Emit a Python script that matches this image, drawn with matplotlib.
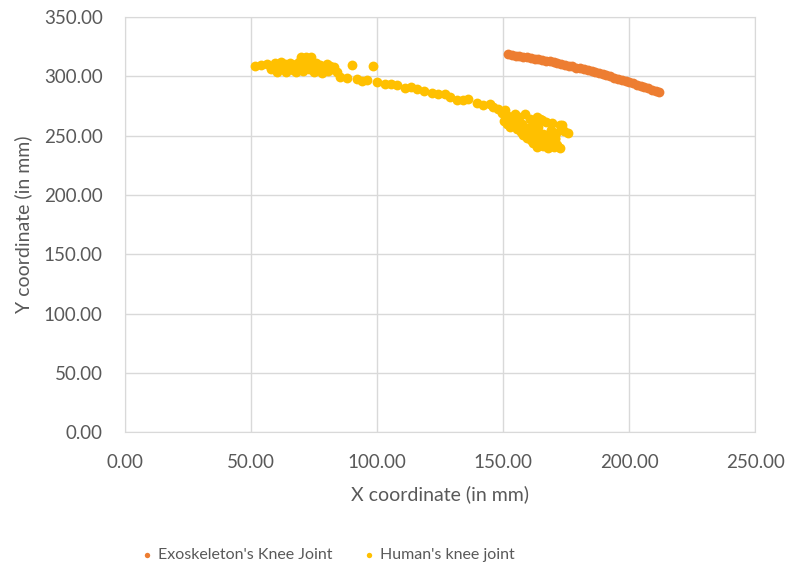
import matplotlib.pyplot as plt
from matplotlib.ticker import FormatStrFormatter

plt.rcParams['font.family'] = ['Lato', 'DejaVu Sans']

# knee joint trajectories (mm)
exo_x = [152.0, 153.5, 155.0, 156.4, 158.0, 159.5, 161.0, 162.6, 164.0, 165.5,
         167.1, 168.6, 170.0, 171.5, 173.0, 174.6, 176.1, 177.5, 179.0, 180.6,
         182.0, 183.5, 185.1, 186.6, 188.0, 189.5, 191.0, 192.6, 194.0, 195.5,
         197.1, 198.6, 200.0, 201.5, 203.0, 204.6, 206.0, 207.5, 209.0, 210.6,
         212.0]
exo_y = [318.7, 318.3, 317.6, 317.3, 316.6, 316.2, 315.5, 315.1, 314.3, 313.9,
         313.0, 312.6, 311.8, 311.3, 310.4, 309.8, 308.9, 308.4, 307.5, 306.8,
         305.9, 305.3, 304.2, 303.6, 302.6, 301.9, 300.8, 300.0, 299.0, 298.2,
         297.0, 296.2, 295.1, 294.3, 293.1, 292.2, 291.0, 290.1, 288.8, 287.9,
         286.7]

human_x = [51.6, 54.0, 56.5, 58.0, 59.5, 60.5, 61.0, 62.0, 62.5, 63.5,
           64.0, 65.0, 65.5, 66.5, 67.0, 68.0, 68.5, 69.0, 70.0, 70.5,
           71.0, 72.0, 72.5, 73.0, 73.5, 74.0, 75.0, 75.5, 76.0, 77.0,
           77.5, 78.0, 79.0, 80.0, 80.5, 81.5, 82.0, 83.0, 84.0, 85.3,
           88.0, 89.9, 91.9, 94.0, 96.0, 98.5, 100.0, 103.2, 105.5, 107.8,
           111.1, 113.5, 115.7, 118.5, 121.7, 124.0, 127.0, 129.0, 131.6, 134.0,
           136.2, 139.5, 142.2, 144.8, 146.1, 148.0, 149.5, 150.8, 151.4, 152.0,
           152.8, 153.5, 154.0, 154.8, 155.5, 156.0, 156.5, 157.0, 157.5, 158.0,
           158.7, 159.0, 159.5, 160.0, 160.5, 161.0, 161.5, 162.0, 162.0, 162.7,
           163.3, 163.3, 164.0, 164.7, 164.5, 165.0, 165.5, 166.0, 166.5, 167.0,
           167.5, 168.0, 168.5, 169.2, 169.5, 170.0, 170.5, 171.3, 171.0, 172.6,
           172.6, 173.3, 174.0, 175.9, 150.2, 151.0, 153.0, 155.0, 157.0, 159.0,
           161.0, 163.0, 165.0, 167.0, 169.0, 171.0, 156.0, 160.0, 164.0, 168.0,
           158.0, 160.5, 162.5, 165.5, 168.5, 170.5, 166.0, 62.0, 66.0, 70.0,
           74.0, 78.0, 60.0, 64.0, 68.0, 72.0, 76.0, 80.0]
human_y = [308.6, 309.5, 310.8, 306.5, 311.5, 304.0, 309.0, 312.0, 306.0, 310.5,
           303.5, 308.5, 311.0, 305.5, 309.0, 304.0, 307.5, 312.5, 316.0, 305.0,
           309.5, 316.4, 313.0, 306.5, 310.0, 316.0, 303.5, 308.5, 311.0, 305.5,
           309.5, 303.0, 307.5, 310.5, 304.5, 309.0, 306.0, 308.0, 303.5, 299.6,
           298.5, 310.0, 297.5, 296.5, 296.8, 308.9, 295.5, 294.0, 293.5, 292.6,
           290.5, 291.0, 289.7, 287.5, 286.1, 285.5, 284.9, 282.5, 280.5, 280.0,
           281.3, 277.5, 275.7, 277.0, 274.3, 272.5, 269.5, 271.5, 260.3, 266.5,
           257.4, 264.0, 262.5, 268.7, 255.5, 261.0, 266.0, 253.0, 259.5, 250.5,
           268.7, 256.0, 248.0, 253.5, 264.5, 246.5, 251.0, 258.0, 244.0, 261.6,
           265.9, 240.6, 249.5, 264.5, 242.0, 247.0, 263.0, 241.0, 245.5, 262.0,
           250.5, 240.0, 244.5, 255.2, 261.0, 240.6, 247.5, 242.0, 252.5, 258.9,
           239.5, 258.9, 254.0, 251.9, 262.5, 263.0, 259.0, 258.0, 256.5, 255.0,
           253.5, 251.0, 248.5, 246.5, 245.0, 243.0, 262.0, 256.5, 257.0, 249.0,
           254.5, 251.5, 249.5, 243.5, 246.0, 248.5, 251.5, 307.5, 307.0, 307.5,
           306.5, 306.0, 310.0, 309.5, 310.5, 309.5, 308.0, 307.5]

orange = '#ED7D31'
yellow = '#FFC000'
grey = '#595959'
gridc = '#D9D9D9'

fig = plt.figure(figsize=(7.90, 5.71), dpi=100)
ax = fig.add_axes([0.158, 0.243, 0.798, 0.727])

ax.scatter(exo_x, exo_y, s=50, color=orange, linewidths=0, zorder=3,
           label="Exoskeleton's Knee Joint")
ax.scatter(human_x, human_y, s=50, color=yellow, linewidths=0, zorder=3,
           label="Human's knee joint")

ax.set_xlim(0, 250)
ax.set_ylim(0, 350)
ax.set_xticks(range(0, 251, 50))
ax.set_yticks(range(0, 351, 50))
ax.xaxis.set_major_formatter(FormatStrFormatter('%.2f'))
ax.yaxis.set_major_formatter(FormatStrFormatter('%.2f'))
ax.grid(True, color=gridc, linewidth=1)
ax.set_axisbelow(True)
for sp in ax.spines.values():
    sp.set_color(gridc)
ax.tick_params(length=0, labelsize=13.5, labelcolor=grey)
ax.tick_params(axis='y', pad=16)
ax.tick_params(axis='x', pad=16)

ax.set_xlabel('X coordinate (in mm)', fontsize=14, color=grey, labelpad=10)
ax.set_ylabel('Y coordinate (in mm)', fontsize=14, color=grey, labelpad=8)

fig.legend(loc='center', bbox_to_anchor=(0.416, 0.028), ncol=2, frameon=False,
           fontsize=11.5, labelcolor=grey, markerscale=0.55, handlelength=0.6,
           handletextpad=0.4, columnspacing=2.0)

fig.savefig('out.png', dpi=100)
